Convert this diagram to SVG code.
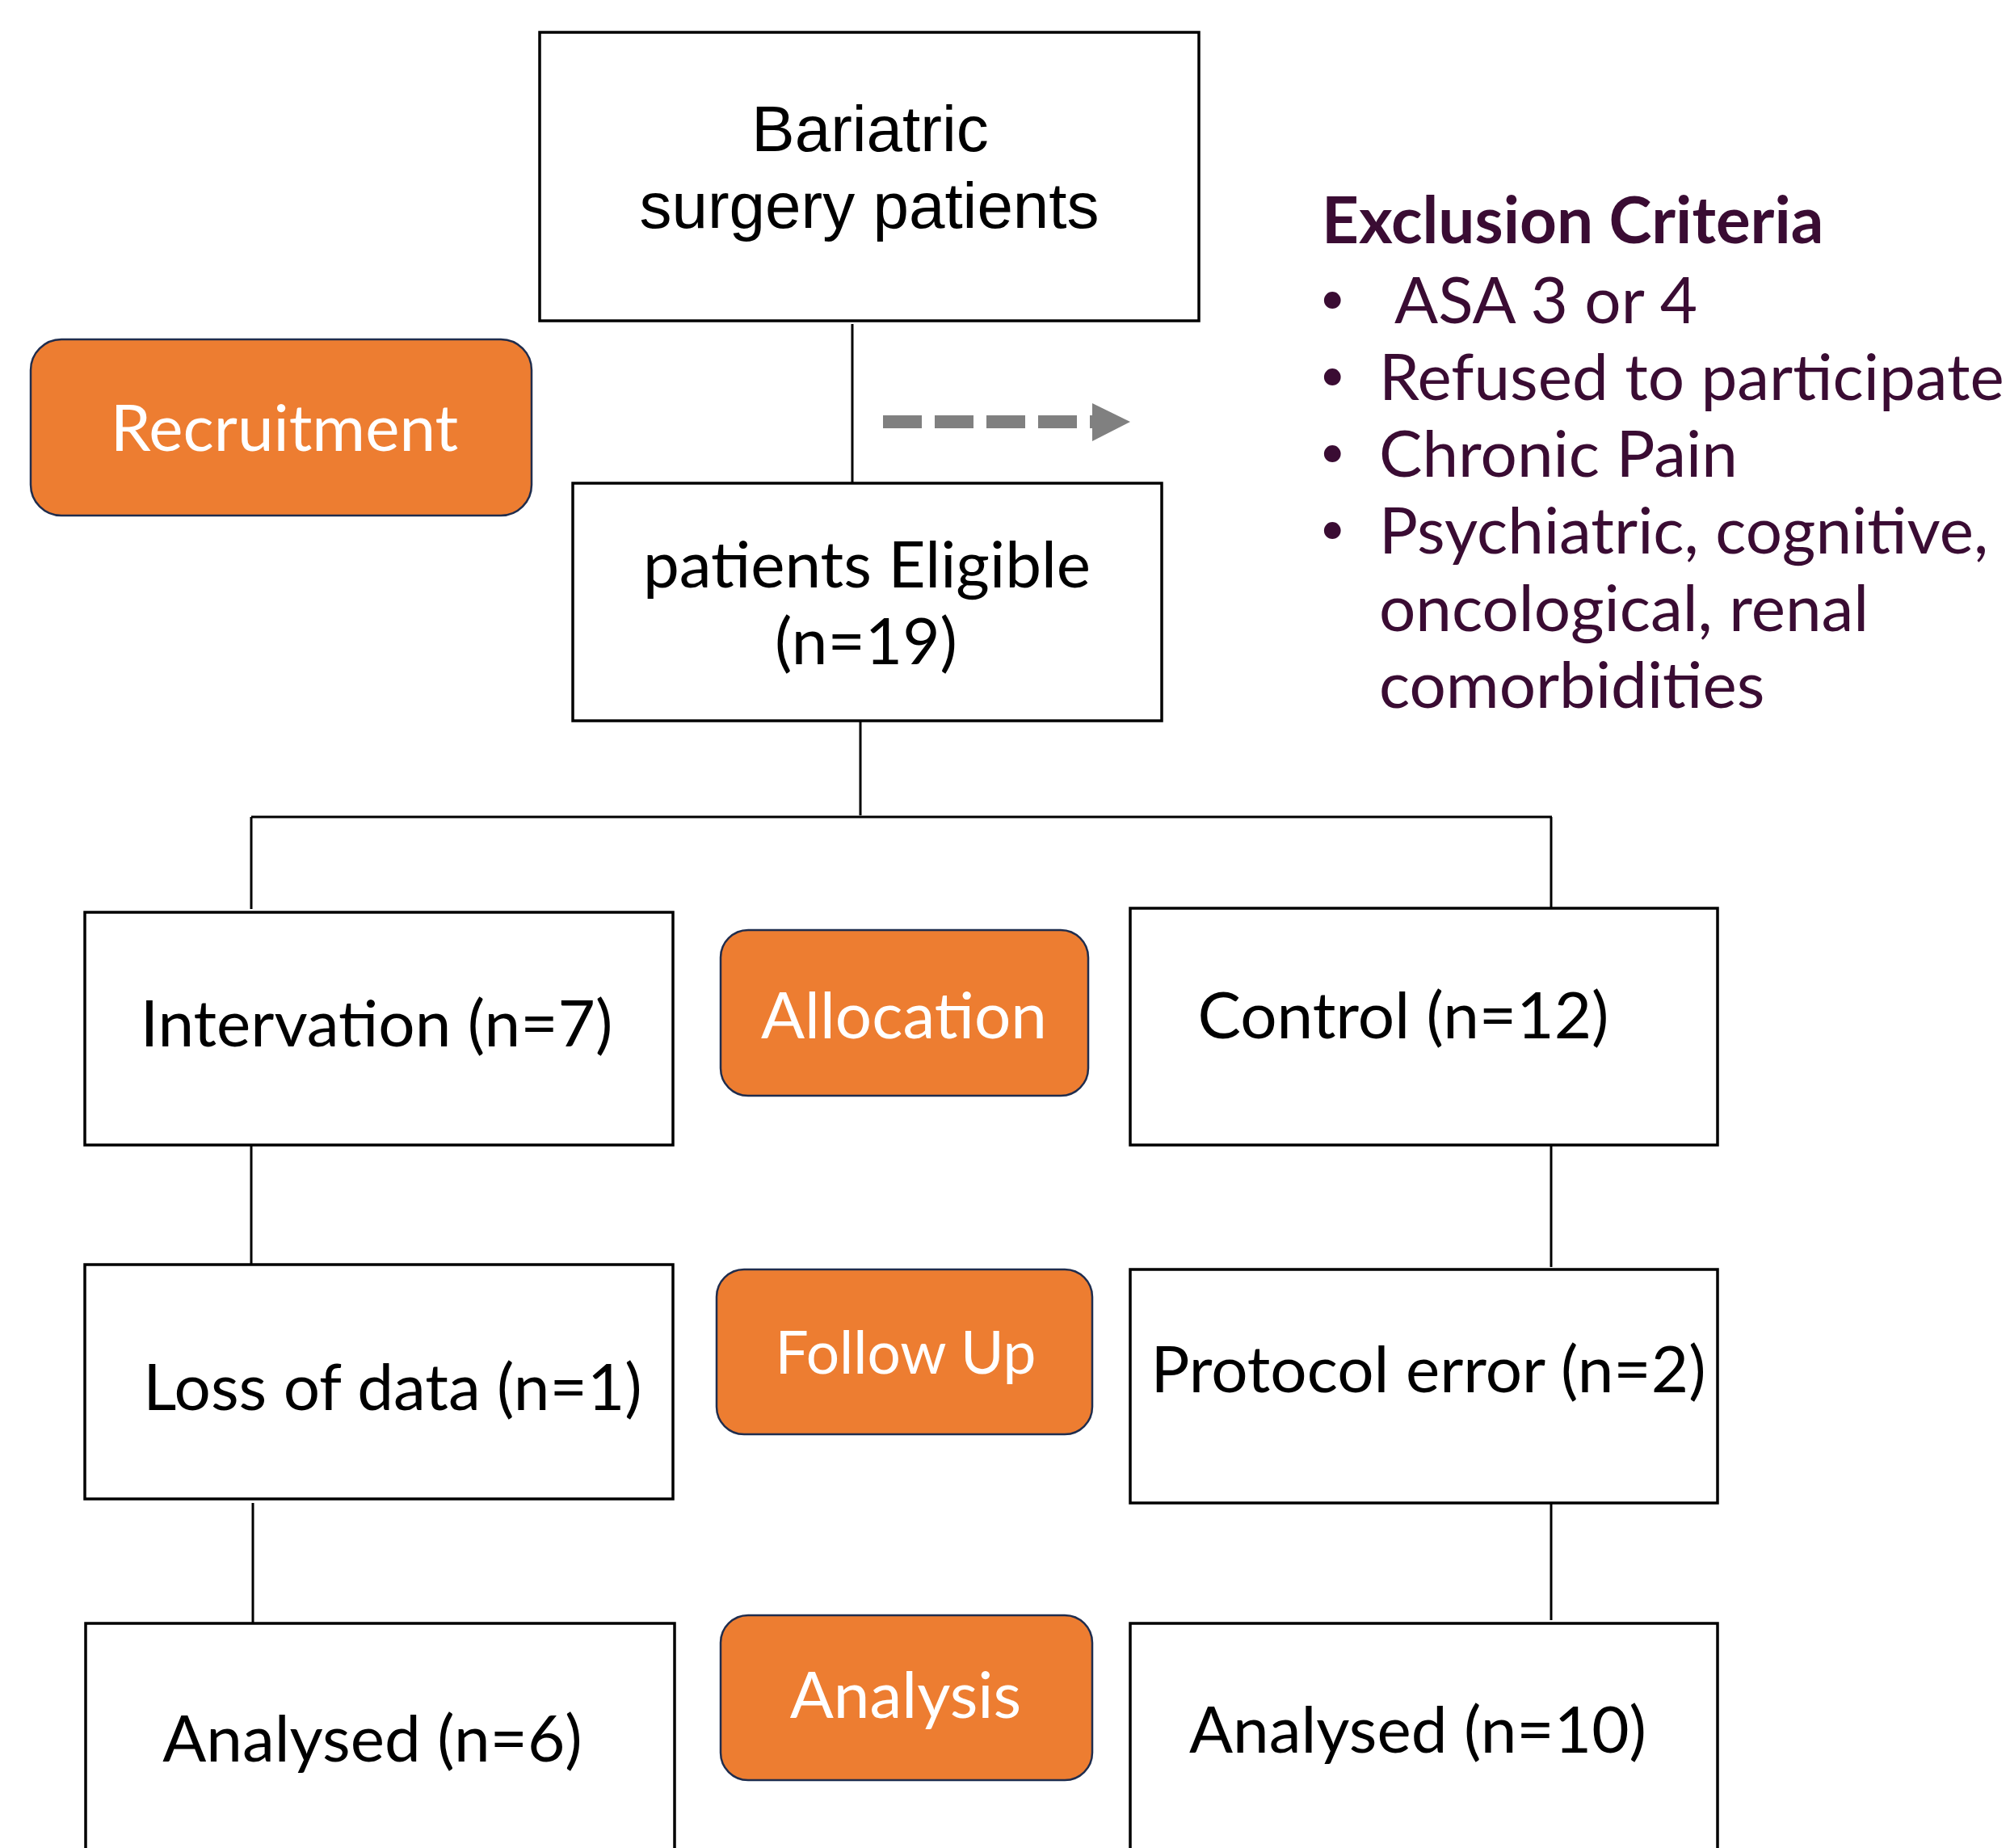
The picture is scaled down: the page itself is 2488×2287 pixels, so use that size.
<svg xmlns="http://www.w3.org/2000/svg" width="2488" height="2287" viewBox="0 0 2488 2287">
<defs>
<style>
.box{fill:#ffffff;stroke:#000000;stroke-width:3.5}
.stage{fill:#ED7D31;stroke:#1F2D4E;stroke-width:2.5}
.conn{stroke:#000000;stroke-width:3;fill:none}
.arial{font-family:"Liberation Sans",Arial,sans-serif;font-size:80px;fill:#000000;text-anchor:middle}
.lato{font-family:Lato,"Open Sans",sans-serif;font-size:80px;fill:#000000;text-anchor:middle}
.white{font-family:Lato,"Open Sans",sans-serif;font-size:80px;fill:#ffffff;text-anchor:middle}
.small{font-size:73px}
.excl{font-family:Lato,"Open Sans",sans-serif;font-size:80px;fill:#3A0C33}
.bold{font-weight:bold}
.bullet{font-family:Lato,"Open Sans",sans-serif;font-size:56px;fill:#3A0C33}
</style>
</defs>
<rect width="2488" height="2287" fill="#ffffff"/>
<g id="connectors">
<line class="conn" x1="1055" y1="401" x2="1055" y2="598"/>
<line class="conn" x1="1065" y1="892" x2="1065" y2="1009"/>
<line class="conn" x1="311" y1="1011" x2="1921" y2="1011"/>
<line class="conn" x1="311" y1="1011" x2="311" y2="1125"/>
<line class="conn" x1="1920" y1="1011" x2="1920" y2="1128"/>
<line class="conn" x1="311" y1="1417" x2="311" y2="1565"/>
<line class="conn" x1="1920" y1="1417" x2="1920" y2="1568"/>
<line class="conn" x1="313" y1="1860" x2="313" y2="2008"/>
<line class="conn" x1="1920" y1="1855" x2="1920" y2="2005"/>
<g id="dashed-arrow">
<line x1="1093" y1="522" x2="1352" y2="522" stroke="#808080" stroke-width="16" stroke-dasharray="48 16"/>
<polygon points="1352,499 1399,522 1352,546" fill="#808080"/>
</g>
</g>
<g id="bariatric">
<rect class="box" x="668" y="40" width="816" height="357"/>
<text class="arial" x="1077" y="187">Bariatric</text>
<text class="arial" x="1076" y="282">surgery patients</text>
</g>
<g id="recruitment">
<rect class="stage" x="38" y="420" width="620" height="218" rx="38"/>
<text class="white" x="352" y="558">Recruitment</text>
</g>
<g id="eligible">
<rect class="box" x="709" y="598" width="729" height="294"/>
<text class="lato" x="1073" y="727">patients Eligible</text>
<text class="lato" x="1072" y="822">(n=19)</text>
</g>
<g id="exclusion">
<text class="excl bold" x="1636" y="301">Exclusion Criteria</text>
<text class="bullet" x="1633" y="388">•</text>
<text class="excl" x="1726" y="400">ASA 3 or 4</text>
<text class="bullet" x="1633" y="483">•</text>
<text class="excl" x="1707" y="495">Refused to participate</text>
<text class="bullet" x="1633" y="578">•</text>
<text class="excl" x="1707" y="590">Chronic Pain</text>
<text class="bullet" x="1633" y="673">•</text>
<text class="excl" x="1707" y="685">Psychiatric, cognitive,</text>
<text class="excl" x="1707" y="781">oncological, renal</text>
<text class="excl" x="1707" y="876">comorbidities</text>
</g>
<g id="intervation">
<rect class="box" x="105" y="1129" width="728" height="288"/>
<text class="lato" x="466" y="1295">Intervation (n=7)</text>
</g>
<g id="allocation">
<rect class="stage" x="892" y="1151" width="455" height="205" rx="34"/>
<text class="white" x="1119" y="1285">Allocation</text>
</g>
<g id="control">
<rect class="box" x="1399" y="1124" width="727" height="293"/>
<text class="lato" x="1737" y="1285">Control (n=12)</text>
</g>
<g id="loss">
<rect class="box" x="105" y="1565" width="728" height="290"/>
<text class="lato" x="486" y="1745">Loss of data (n=1)</text>
</g>
<g id="followup">
<rect class="stage" x="887" y="1571" width="465" height="204" rx="34"/>
<text class="white small" x="1121" y="1700">Follow Up</text>
</g>
<g id="protocol">
<rect class="box" x="1399" y="1571" width="727" height="289"/>
<text class="lato" x="1768" y="1723">Protocol error (n=2)</text>
</g>
<g id="analysed6">
<rect class="box" x="106" y="2009" width="729" height="300"/>
<text class="lato" x="461" y="2180">Analysed (n=6)</text>
</g>
<g id="analysis">
<rect class="stage" x="892" y="1999" width="460" height="204" rx="34"/>
<text class="white" x="1121" y="2126">Analysis</text>
</g>
<g id="analysed10">
<rect class="box" x="1399" y="2009" width="727" height="300"/>
<text class="lato" x="1755" y="2169">Analysed (n=10)</text>
</g>
</svg>
